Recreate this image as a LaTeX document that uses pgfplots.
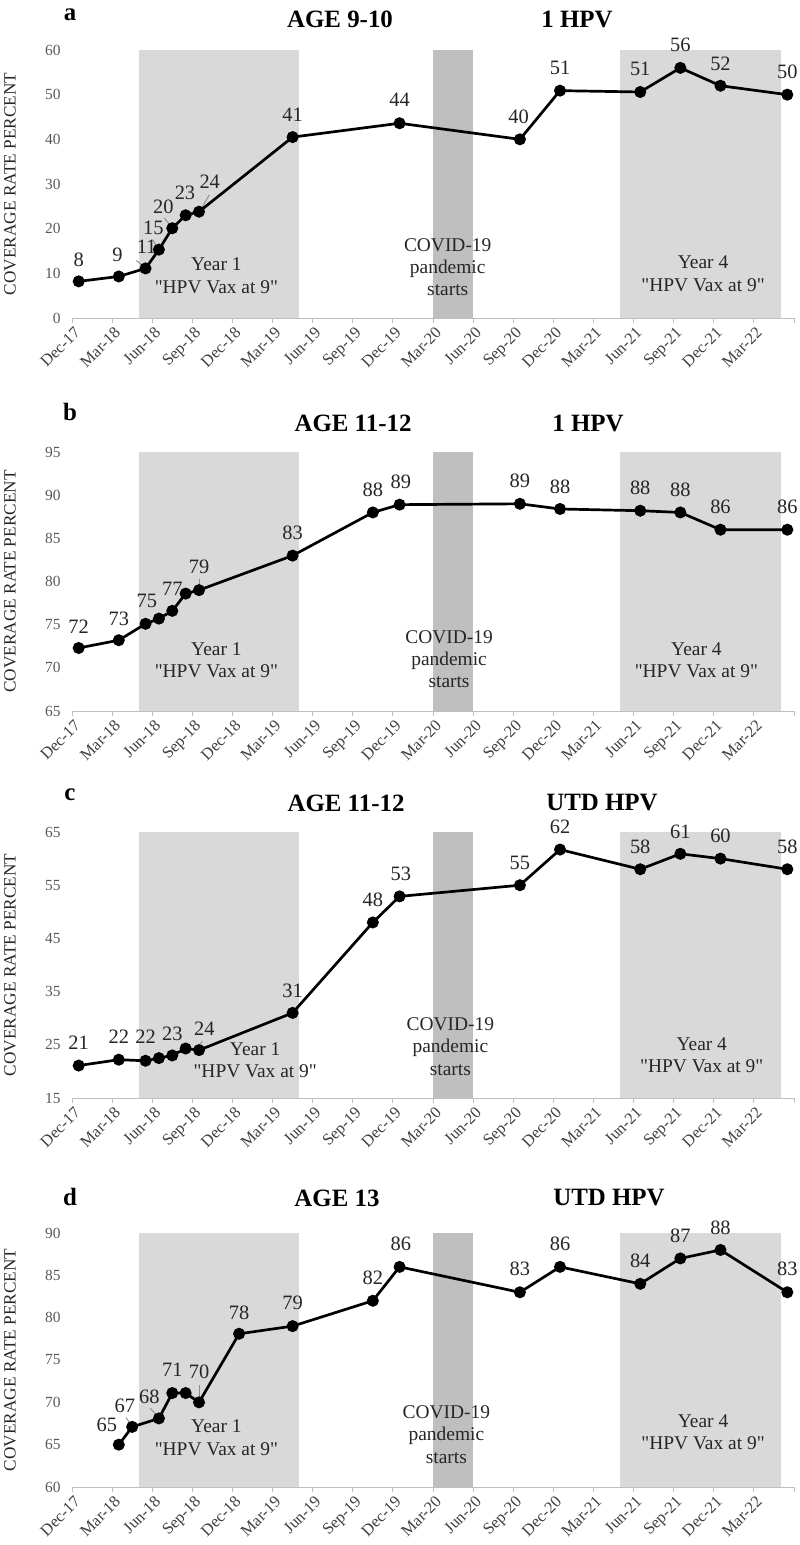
\documentclass[border=0pt]{standalone}
\usepackage{fontspec}
\setmainfont{Liberation Serif}[Ligatures=TeXOff]
\usepackage{pgfplots}
\pgfplotsset{compat=1.18}
\definecolor{shadeA}{HTML}{D9D9D9}
\definecolor{shadeB}{HTML}{BFBFBF}
\definecolor{axgray}{HTML}{BFBFBF}
\definecolor{ticktxt}{HTML}{595959}
\definecolor{xtxt}{HTML}{404040}
\definecolor{labtxt}{HTML}{262626}
\definecolor{leadc}{HTML}{8C8C8C}
\pgfplotsset{
  panel/.style={
    scale only axis, width=722bp,
    xmin=0, xmax=54, clip=false, axis on top,
    axis x line*=bottom, axis y line*=left,
    y axis line style={draw=none},
    x axis line style={draw=axgray, line width=0.8bp},
    xtick={0,3,...,51},
    xticklabels={Dec-17,Mar-18,Jun-18,Sep-18,Dec-18,Mar-19,Jun-19,Sep-19,Dec-19,Mar-20,Jun-20,Sep-20,Dec-20,Mar-21,Jun-21,Sep-21,Dec-21,Mar-22},
    extra x ticks={54}, extra x tick labels={},
    extra x tick style={xtick style={draw=axgray, line width=0.8bp}},
    xtick align=outside, major tick length=5bp,
    xtick style={draw=axgray, line width=0.8bp},
    ytick style={draw=none},
    xticklabel style={rotate=45, anchor=north east, font=\fontsize{16.5}{16.5}\selectfont, text=xtxt, inner sep=1bp, yshift=-2bp},
    yticklabel style={font=\fontsize{15.5}{15.5}\selectfont, text=ticktxt, xshift=-8bp},
    /pgf/number format/assume math mode=true,
    ylabel={COVERAGE RATE PERCENT},
    ylabel style={at={(axis description cs:-0.0859,0.5)}, anchor=center, font=\fontsize{17.3}{17.3}\selectfont, text=labtxt},
  },
  series/.style={black, line width=2.7bp, mark=*, mark size=4.6bp, mark options={solid, fill=black}},
}
\tikzset{
  dl/.style={font=\fontsize{20.5}{20.5}\selectfont, text=labtxt, inner sep=0pt, anchor=center},
  ann/.style={font=\fontsize{19.5}{22.5}\selectfont, text=labtxt, align=center, anchor=center, inner sep=0pt},
  ttl/.style={font=\fontsize{25}{25}\selectfont\bfseries, anchor=center, inner sep=0pt},
  ldr/.style={draw=leadc, line width=0.9bp},
}
\begin{document}
\begin{tikzpicture}
\useasboundingbox (0,0) rectangle (800bp,-1545bp);
% ---------------- Panel a ----------------
\node[ttl] at (70bp,-15bp) {a};
\node[ttl] at (340bp,-19bp) {AGE 9-10};
\node[ttl] at (577bp,-19bp) {1 HPV};
\begin{axis}[panel, at={(72bp,-50bp)}, anchor=north west, height=268bp,
  ymin=0, ymax=60, ytick={0,10,...,60}]
\addplot[fill=shadeA, draw=none] coordinates {(5,0) (5,60) (17,60) (17,0)} -- cycle;
\addplot[fill=shadeB, draw=none] coordinates {(27,0) (27,60) (30,60) (30,0)} -- cycle;
\addplot[fill=shadeA, draw=none] coordinates {(41,0) (41,60) (53,60) (53,0)} -- cycle;
\node[ann] at (axis cs:10.8,9.5) {Year 1\\"HPV Vax at 9"};
\node[ann] at (axis cs:28.1,11.4) {COVID-19\\pandemic\\starts};
\node[ann] at (axis cs:47.2,9.9) {Year 4\\"HPV Vax at 9"};
\draw[ldr] (axis cs:4.8,12.9) -- (axis cs:5.4,11.5);
\draw[ldr] (axis cs:6.03,17.5) -- (axis cs:6.38,15.9);
\draw[ldr] (axis cs:6.9,22.4) -- (axis cs:7.38,20.6);
\draw[ldr] (axis cs:10.27,27.6) -- (axis cs:9.7,24.6);
\addplot[series] coordinates {(0.5,8.2)(3.5,9.3)(5.5,11.1)(6.5,15.3)(7.5,20.1)(8.5,23.0)(9.5,23.8)(16.5,40.5)(24.5,43.6)(33.5,40.0)(36.5,50.9)(42.5,50.6)(45.5,56.0)(48.5,52.0)(53.5,50.0)};
\node[dl] at (axis cs:0.5,13.0) {8};
\node[dl] at (axis cs:3.4,14.2) {9};
\node[dl] at (axis cs:5.58,16.0) {11};
\node[dl] at (axis cs:6.08,20.1) {15};
\node[dl] at (axis cs:6.83,25.0) {20};
\node[dl] at (axis cs:8.45,28.0) {23};
\node[dl] at (axis cs:10.3,30.6) {24};
\node[dl] at (axis cs:16.5,45.5) {41};
\node[dl] at (axis cs:24.5,48.8) {44};
\node[dl] at (axis cs:33.4,45.1) {40};
\node[dl] at (axis cs:36.5,55.9) {51};
\node[dl] at (axis cs:42.5,55.7) {51};
\node[dl] at (axis cs:45.5,61.1) {56};
\node[dl] at (axis cs:48.5,56.9) {52};
\node[dl] at (axis cs:53.5,55.2) {50};
\end{axis}
% ---------------- Panel b ----------------
\node[ttl] at (70bp,-412bp) {b};
\node[ttl] at (353bp,-423bp) {AGE 11-12};
\node[ttl] at (588bp,-423bp) {1 HPV};
\begin{axis}[panel, at={(72bp,-452bp)}, anchor=north west, height=259bp,
  ymin=65, ymax=95, ytick={65,70,...,95}]
\addplot[fill=shadeA, draw=none] coordinates {(5,65) (5,95) (17,95) (17,65)} -- cycle;
\addplot[fill=shadeB, draw=none] coordinates {(27,65) (27,95) (30,95) (30,65)} -- cycle;
\addplot[fill=shadeA, draw=none] coordinates {(41,65) (41,95) (53,95) (53,65)} -- cycle;
\node[ann] at (axis cs:10.8,70.9) {Year 1\\"HPV Vax at 9"};
\node[ann] at (axis cs:28.2,71.0) {COVID-19\\pandemic\\starts};
\node[ann] at (axis cs:46.7,70.9) {Year 4\\"HPV Vax at 9"};
\draw[ldr] (axis cs:9.5,80.25) -- (axis cs:9.5,79.4);
\addplot[series] coordinates {(0.5,72.3)(3.5,73.2)(5.5,75.1)(6.5,75.7)(7.5,76.6)(8.5,78.6)(9.5,79.0)(16.5,83.0)(22.5,88.0)(24.5,88.9)(33.5,89.0)(36.5,88.4)(42.5,88.2)(45.5,88.0)(48.5,86.0)(53.5,86.0)};
\node[dl] at (axis cs:0.5,74.8) {72};
\node[dl] at (axis cs:3.5,75.7) {73};
\node[dl] at (axis cs:5.6,77.7) {75};
\node[dl] at (axis cs:7.5,79.2) {77};
\node[dl] at (axis cs:9.5,81.7) {79};
\node[dl] at (axis cs:16.5,85.6) {83};
\node[dl] at (axis cs:22.5,90.6) {88};
\node[dl] at (axis cs:24.6,91.6) {89};
\node[dl] at (axis cs:33.5,91.7) {89};
\node[dl] at (axis cs:36.5,91.0) {88};
\node[dl] at (axis cs:42.5,90.8) {88};
\node[dl] at (axis cs:45.5,90.6) {88};
\node[dl] at (axis cs:48.5,88.7) {86};
\node[dl] at (axis cs:53.5,88.7) {86};
\end{axis}
% ---------------- Panel c ----------------
\node[ttl] at (70bp,-795bp) {c};
\node[ttl] at (346bp,-803bp) {AGE 11-12};
\node[ttl] at (602bp,-803bp) {UTD HPV};
\begin{axis}[panel, at={(72bp,-832bp)}, anchor=north west, height=266bp,
  ymin=15, ymax=65, ytick={15,25,...,65}]
\addplot[fill=shadeA, draw=none] coordinates {(5,15) (5,65) (17,65) (17,15)} -- cycle;
\addplot[fill=shadeB, draw=none] coordinates {(27,15) (27,65) (30,65) (30,15)} -- cycle;
\addplot[fill=shadeA, draw=none] coordinates {(41,15) (41,65) (53,65) (53,15)} -- cycle;
\node[ann] at (axis cs:13.7,22.1) {Year 1\\"HPV Vax at 9"};
\node[ann] at (axis cs:28.3,24.7) {COVID-19\\pandemic\\starts};
\node[ann] at (axis cs:47.1,23.0) {Year 4\\"HPV Vax at 9"};
\draw[ldr] (axis cs:9.75,25.7) -- (axis cs:9.45,24.5);
\addplot[series] coordinates {(0.5,21.1)(3.5,22.2)(5.5,22.0)(6.5,22.5)(7.5,23.0)(8.5,24.3)(9.5,24.0)(16.5,31.0)(22.5,48.0)(24.5,52.9)(33.5,55.0)(36.5,61.7)(42.5,58.0)(45.5,60.9)(48.5,60.0)(53.5,58.0)};
\node[dl] at (axis cs:0.5,25.3) {21};
\node[dl] at (axis cs:3.5,26.5) {22};
\node[dl] at (axis cs:5.5,26.5) {22};
\node[dl] at (axis cs:7.5,27.1) {23};
\node[dl] at (axis cs:9.9,28.0) {24};
\node[dl] at (axis cs:16.5,35.2) {31};
\node[dl] at (axis cs:22.5,52.2) {48};
\node[dl] at (axis cs:24.6,57.2) {53};
\node[dl] at (axis cs:33.5,59.1) {55};
\node[dl] at (axis cs:36.5,65.9) {62};
\node[dl] at (axis cs:42.5,62.2) {58};
\node[dl] at (axis cs:45.5,65.0) {61};
\node[dl] at (axis cs:48.5,64.2) {60};
\node[dl] at (axis cs:53.5,62.2) {58};
\end{axis}
% ---------------- Panel d ----------------
\node[ttl] at (70bp,-1197bp) {d};
\node[ttl] at (337bp,-1198bp) {AGE 13};
\node[ttl] at (609bp,-1198bp) {UTD HPV};
\begin{axis}[panel, at={(72bp,-1233bp)}, anchor=north west, height=254bp,
  ymin=60, ymax=90, ytick={60,65,...,90}]
\addplot[fill=shadeA, draw=none] coordinates {(5,60) (5,90) (17,90) (17,60)} -- cycle;
\addplot[fill=shadeB, draw=none] coordinates {(27,60) (27,90) (30,90) (30,60)} -- cycle;
\addplot[fill=shadeA, draw=none] coordinates {(41,60) (41,90) (53,90) (53,60)} -- cycle;
\node[ann] at (axis cs:10.8,65.8) {Year 1\\"HPV Vax at 9"};
\node[ann] at (axis cs:28.0,66.2) {COVID-19\\pandemic\\starts};
\node[ann] at (axis cs:47.2,66.5) {Year 4\\"HPV Vax at 9"};
\draw[ldr] (axis cs:4.04,68.2) -- (axis cs:4.46,67.3);
\draw[ldr] (axis cs:5.83,69.3) -- (axis cs:6.43,68.35);
\draw[ldr] (axis cs:9.5,72.0) -- (axis cs:9.5,70.4);
\addplot[series] coordinates {(3.5,65.0)(4.5,67.1)(6.5,68.1)(7.5,71.1)(8.5,71.1)(9.5,70.0)(12.5,78.1)(16.5,79.0)(22.5,82.0)(24.5,86.0)(33.5,83.0)(36.5,86.0)(42.5,84.0)(45.5,87.0)(48.5,88.0)(53.5,83.0)};
\node[dl] at (axis cs:2.6,67.4) {65};
\node[dl] at (axis cs:3.96,69.6) {67};
\node[dl] at (axis cs:5.78,70.6) {68};
\node[dl] at (axis cs:7.5,73.8) {71};
\node[dl] at (axis cs:9.5,73.6) {70};
\node[dl] at (axis cs:12.5,80.6) {78};
\node[dl] at (axis cs:16.5,81.7) {79};
\node[dl] at (axis cs:22.5,84.7) {82};
\node[dl] at (axis cs:24.6,88.7) {86};
\node[dl] at (axis cs:33.5,85.8) {83};
\node[dl] at (axis cs:36.5,88.7) {86};
\node[dl] at (axis cs:42.5,86.7) {84};
\node[dl] at (axis cs:45.5,89.7) {87};
\node[dl] at (axis cs:48.5,90.6) {88};
\node[dl] at (axis cs:53.5,85.8) {83};
\end{axis}
\end{tikzpicture}
\end{document}
